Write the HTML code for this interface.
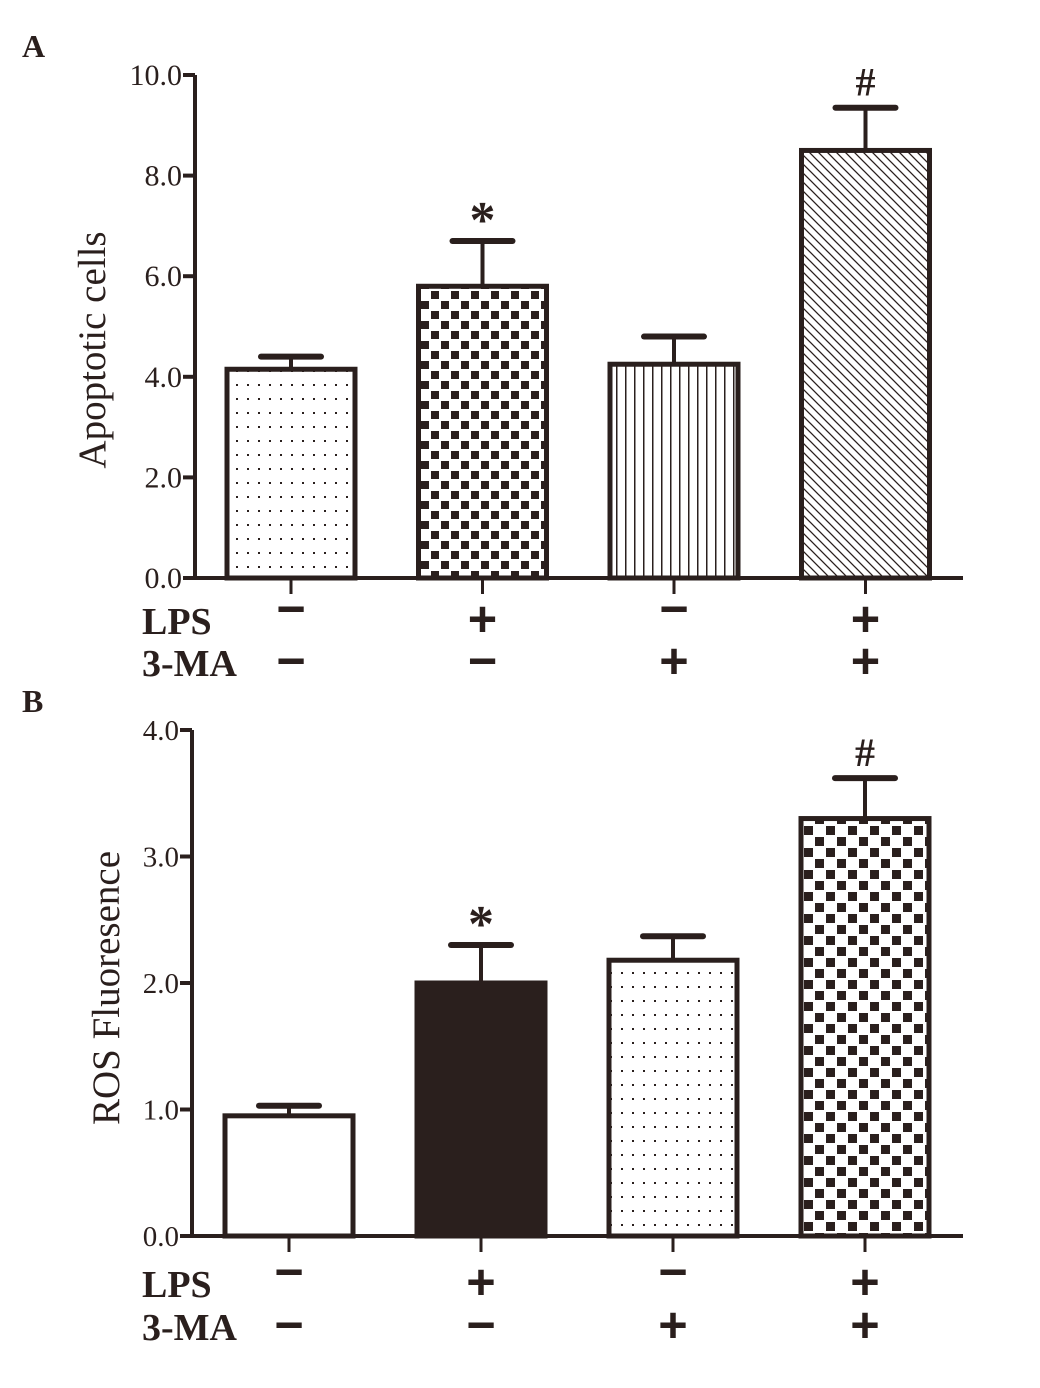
<!DOCTYPE html>
<html><head><meta charset="utf-8"><style>
body{margin:0;background:#fff}
svg text{font-family:"Liberation Serif",serif;fill:#2a1f1d}
</style></head><body>
<svg width="1040" height="1383" viewBox="0 0 1040 1383" xmlns="http://www.w3.org/2000/svg">
<defs>
<pattern id="dots" width="11" height="14" patternUnits="userSpaceOnUse"><rect width="11" height="14" fill="#fff"/><rect x="5" y="6" width="2" height="2" fill="#2a1f1d"/></pattern>
<pattern id="check" width="20" height="20" patternUnits="userSpaceOnUse"><rect width="20" height="20" fill="#fff"/><rect x="1" y="1" width="8" height="8" fill="#2a1f1d"/><rect x="11" y="11" width="8" height="8" fill="#2a1f1d"/></pattern>
<pattern id="check2" width="22" height="22" patternUnits="userSpaceOnUse"><rect width="22" height="22" fill="#fff"/><rect x="1" y="1" width="9" height="9" fill="#2a1f1d"/><rect x="12" y="12" width="9" height="9" fill="#2a1f1d"/></pattern>
<pattern id="vlines" width="9" height="10" patternUnits="userSpaceOnUse"><rect width="9" height="10" fill="#fff"/><rect x="4" y="0" width="1.5" height="10" fill="#2a1f1d"/></pattern>
<pattern id="diag" width="9" height="9" patternUnits="userSpaceOnUse"><rect width="9" height="9" fill="#fff"/><path d="M-2,-2 L11,11 M-2,7 L2,11 M7,-2 L11,2" stroke="#2a1f1d" stroke-width="1.3"/></pattern>
<pattern id="solid" width="10" height="10" patternUnits="userSpaceOnUse"><rect width="10" height="10" fill="#2a1f1d"/></pattern>
<pattern id="white" width="10" height="10" patternUnits="userSpaceOnUse"><rect width="10" height="10" fill="#fff"/></pattern>
</defs>
<g id="panelA"></g>
<g id="panelB"></g>
</svg>
<script>
const NS="http://www.w3.org/2000/svg";
const aValues=[4.15,5.8,4.25,8.5];
const aErrors=[0.25,0.9,0.55,0.85];
const aMarks=["","*","","#"];
const aTicks=[0,2,4,6,8,10];
const aTickLabels=["0.0","2.0","4.0","6.0","8.0","10.0"];
const aFills=["dots","check","vlines","diag"];
const bValues=[0.95,2.0,2.18,3.3];
const bErrors=[0.08,0.3,0.19,0.32];
const bMarks=["","*","","#"];
const bTicks=[0,1,2,3,4];
const bTickLabels=["0.0","1.0","2.0","3.0","4.0"];
const bFills=["white","solid","dots","check2"];
const lpsSigns=["−","+","−","+"];
const maSigns=["−","−","+","+"];
const C="#2a1f1d";
function mk(parent,tag,attrs,text){const e=document.createElementNS(NS,tag);for(const k in attrs)e.setAttribute(k,attrs[k]);if(text!==undefined)e.textContent=text;parent.appendChild(e);return e;}
function panel(g,o){
 const y=v=>o.y0-(v/o.max)*(o.y0-o.yTop);
 const ax=mk(g,"path",{d:`M${o.ax},${o.yTop} L${o.ax},${o.y0} L${o.xEnd},${o.y0}`,fill:"none",stroke:C,"stroke-width":4});
 
 
 o.ticks.forEach((t,i)=>{
  const tk=mk(g,"line",{x1:o.ax-12,x2:o.ax,y1:y(t),y2:y(t),stroke:C,"stroke-width":4});
  
  
  const tl=mk(g,"text",{x:o.ax-13,y:y(t)+10,"text-anchor":"end","font-size":o.tickFs},o.labels[i]);
  
  
 });
 const yt=mk(g,"text",{transform:`translate(${o.titleX},${o.titleY}) rotate(-90)`,"text-anchor":"middle","font-size":o.titleFs},o.title);
 
 
 const pl=mk(g,"text",{x:22,y:o.yTop-18,"font-size":32,"font-weight":"bold"},o.letter);
 
 
 o.values.forEach((v,i)=>{
  const cx=o.x0+i*o.step, w=128;
  const top=y(v), et=y(v+o.errs[i]);
  const el=mk(g,"line",{x1:cx,x2:cx,y1:et,y2:top,stroke:C,"stroke-width":4});
  
  
  const cap=mk(g,"line",{x1:cx-30,x2:cx+30,y1:et,y2:et,stroke:C,"stroke-width":6,"stroke-linecap":"round"});
  
  
  const b=mk(g,"rect",{x:cx-w/2,y:top,width:w,height:o.y0-top,fill:`url(#${o.fills[i]})`,stroke:C,"stroke-width":5});
  
  
  const xt=mk(g,"line",{x1:cx,x2:cx,y1:o.y0,y2:o.y0+16,stroke:C,"stroke-width":3});
  
  
  if(o.marks[i]){
   const m=mk(g,"text",{x:cx,y:et-(o.marks[i]=="*"?4:12),"text-anchor":"middle","font-size":o.marks[i]=="*"?52:40,"font-weight":"bold"},o.marks[i]);
   
   
  }
  const s1=mk(g,"text",{x:cx,y:o.r1+(lpsSigns[i]=="−"?6:16),"text-anchor":"middle","font-size":50,"font-weight":"bold","stroke":C,"stroke-width":2},lpsSigns[i]);
  
  
  const s2=mk(g,"text",{x:cx,y:o.r2+16,"text-anchor":"middle","font-size":50,"font-weight":"bold","stroke":C,"stroke-width":2},maSigns[i]);
  
  
 });
 const l1=mk(g,"text",{x:142,y:o.r1+14,"font-size":38,"font-weight":"bold"},"LPS");
 
 
 const l2=mk(g,"text",{x:142,y:o.r2+14,"font-size":38,"font-weight":"bold"},"3-MA");
 
 
}
panel(document.getElementById("panelA"),{ax:195,y0:578,yTop:75,xEnd:963,max:10,ticks:aTicks,labels:aTickLabels,title:"Apoptotic cells",titleX:105,titleY:350,titleFs:39,tickFs:30,letter:"A",values:aValues,errs:aErrors,marks:aMarks,fills:aFills,x0:291,step:191.5,r1:620,r2:662});
panel(document.getElementById("panelB"),{ax:192,y0:1236,yTop:730,xEnd:963,max:4,ticks:bTicks,labels:bTickLabels,title:"ROS Fluoresence",titleX:119,titleY:988,titleFs:39,tickFs:29,letter:"B",values:bValues,errs:bErrors,marks:bMarks,fills:bFills,x0:289,step:192,r1:1283,r2:1326});
</script>
</body></html>
